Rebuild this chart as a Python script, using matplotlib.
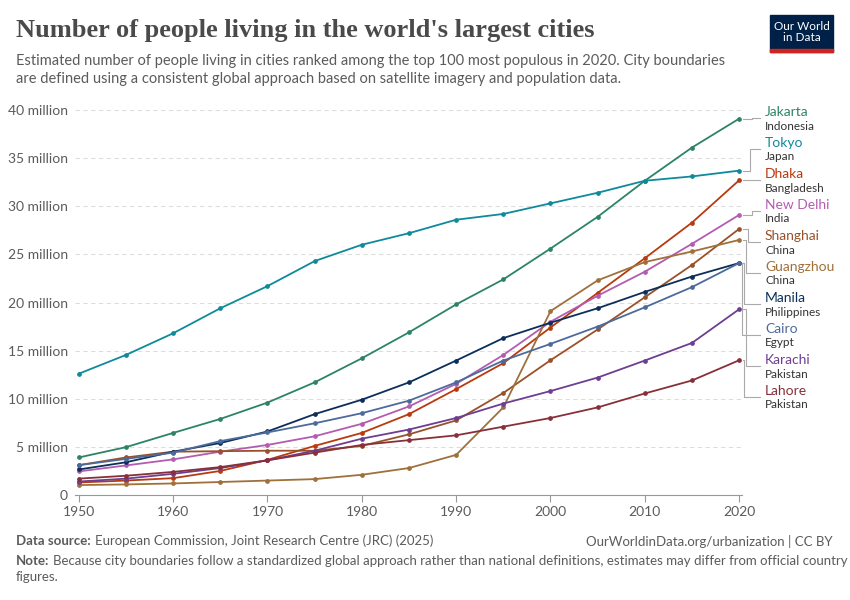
import matplotlib
matplotlib.use("Agg")
import matplotlib.pyplot as plt
from matplotlib.patches import Rectangle

years = [1950,1955,1960,1965,1970,1975,1980,1985,1990,1995,2000,2005,2010,2015,2020]
jakarta  = [3.9,4.97,6.45,7.9,9.6,11.7,14.2,16.9,19.8,22.4,25.6,28.9,32.65,36.1,39.1]
tokyo    = [12.6,14.55,16.8,19.4,21.7,24.3,26.0,27.2,28.6,29.2,30.3,31.4,32.65,33.1,33.7]
dhaka    = [1.3,1.5,1.75,2.5,3.65,5.1,6.45,8.4,11.0,13.7,17.4,21.0,24.6,28.3,32.7]
delhi    = [2.45,3.07,3.7,4.5,5.2,6.1,7.4,9.2,11.55,14.55,18.0,20.7,23.2,26.1,29.1]
shanghai = [3.1,3.9,4.5,4.55,4.6,4.6,5.1,6.3,7.75,10.6,14.0,17.2,20.55,23.9,27.65]
guangzhou= [1.03,1.1,1.2,1.35,1.5,1.65,2.1,2.8,4.17,9.1,19.1,22.3,24.2,25.3,26.5]
manila   = [2.65,3.4,4.5,5.4,6.6,8.4,9.9,11.7,13.97,16.3,17.9,19.4,21.1,22.7,24.1]
cairo    = [3.1,3.75,4.4,5.6,6.5,7.45,8.5,9.8,11.7,13.97,15.7,17.5,19.5,21.6,24.1]
karachi  = [1.4,1.7,2.2,2.8,3.6,4.6,5.85,6.8,8.0,9.5,10.8,12.2,13.97,15.8,19.3]
lahore   = [1.7,2.0,2.4,2.9,3.6,4.4,5.2,5.7,6.2,7.1,8.0,9.1,10.55,11.9,14.0]

cities = ["Jakarta","Tokyo","Dhaka","New Delhi","Shanghai","Guangzhou","Manila","Cairo","Karachi","Lahore"]
countries = ["Indonesia","Japan","Bangladesh","India","China","China","Philippines","Egypt","Pakistan","Pakistan"]
series = [jakarta,tokyo,dhaka,delhi,shanghai,guangzhou,manila,cairo,karachi,lahore]
colors = ["#2C8465","#0E8A9A","#B83A0E","#B35CB0","#9A5129","#A0703A","#0B2E5A","#4C6A9C","#6D3E91","#883039"]
yticks = [0,5,10,15,20,25,30,35,40]
ylabels = ["0","5 million","10 million","15 million","20 million","25 million","30 million","35 million","40 million"]
xticks = [1950,1960,1970,1980,1990,2000,2010,2020]

plt.rcParams['font.family'] = ['Lato','DejaVu Sans']
W,H = 850,600
fig = plt.figure(figsize=(8.5,6), dpi=100)
ax = fig.add_axes([75/W, 1-495/H, (742-75)/W, 385/H])
ax.set_xlim(1949.6, 2020.3)
ax.set_ylim(0, 40)
for s, c in zip(series, colors):
    ax.plot(years, s, color=c, lw=1.3, marker='o', ms=2.4, zorder=3, clip_on=False)
ax.set_yticks(yticks)
ax.set_yticklabels(ylabels, fontsize=10, color="#5b5b5b")
ax.set_xticks(xticks)
ax.set_xticklabels([str(x) for x in xticks], fontsize=10, color="#5b5b5b")
ax.grid(axis='y', color="#dddddd", ls=(0,(4,3)), lw=0.8)
for sp in ['top','right','left']:
    ax.spines[sp].set_visible(False)
ax.spines['bottom'].set_color("#999999")
ax.tick_params(axis='y', length=0, pad=5)
ax.tick_params(axis='x', length=5, color="#999999", pad=3)

def px2fy(y): return 1 - y/H
name_y = [112,143,174,205,236,267,298,329,360,391]
elbow = [752,742+8,752,752,748,746,744,742,746,744]
for i,(c,n,co,s) in enumerate(zip(cities,colors,countries,series)):
    yp = name_y[i]
    fig.text(765/W, px2fy(yp), c, color=n, fontsize=10, va='center')
    fig.text(765/W, px2fy(yp+14), co, color="#333333", fontsize=8.5, va='center')
    py = 495 - s[-1]*9.625
    lx = elbow[i]
    fig.add_artist(plt.Line2D([743/W, lx/W, lx/W, 760/W], [px2fy(py), px2fy(py), px2fy(yp+6), px2fy(yp+6)],
                              color="#aaaaaa", lw=0.8, transform=fig.transFigure))

fig.text(16/W, px2fy(30), "Number of people living in the world's largest cities", fontsize=19,
         fontweight='bold', family=['Liberation Serif','DejaVu Serif'], color="#4a4a4a", va='center')
fig.text(16/W, px2fy(70), "Estimated number of people living in cities ranked among the top 100 most populous in 2020. City boundaries\nare defined using a consistent global approach based on satellite imagery and population data.",
         fontsize=10.5, color="#5b5b5b", va='center', linespacing=1.3)
fig.add_artist(Rectangle((770/W, px2fy(52)), 63/W, 37/H, color="#002147", transform=fig.transFigure))
fig.add_artist(Rectangle((770/W, px2fy(52)), 63/W, 3/H, color="#CE261E", transform=fig.transFigure))
fig.text(801.5/W, px2fy(32), "Our World\nin Data", color="white", fontsize=8.5, ha='center', va='center', linespacing=1.1)

fig.text(16/W, px2fy(541), "Data source:", fontsize=9.5, fontweight='bold', color="#5b5b5b", va='center')
fig.text(95/W, px2fy(541), "European Commission, Joint Research Centre (JRC) (2025)", fontsize=9.5, color="#5b5b5b", va='center')
fig.text(833/W, px2fy(541), "OurWorldinData.org/urbanization | CC BY", fontsize=9.5, color="#5b5b5b", va='center', ha='right')
fig.text(16/W, px2fy(561), "Note:", fontsize=9.5, fontweight='bold', color="#5b5b5b", va='center')
fig.text(53/W, px2fy(561), "Because city boundaries follow a standardized global approach rather than national definitions, estimates may differ from official country", fontsize=9.5, color="#5b5b5b", va='center')
fig.text(16/W, px2fy(577), "figures.", fontsize=9.5, color="#5b5b5b", va='center')

fig.savefig("out.png", dpi=100, facecolor="white")
